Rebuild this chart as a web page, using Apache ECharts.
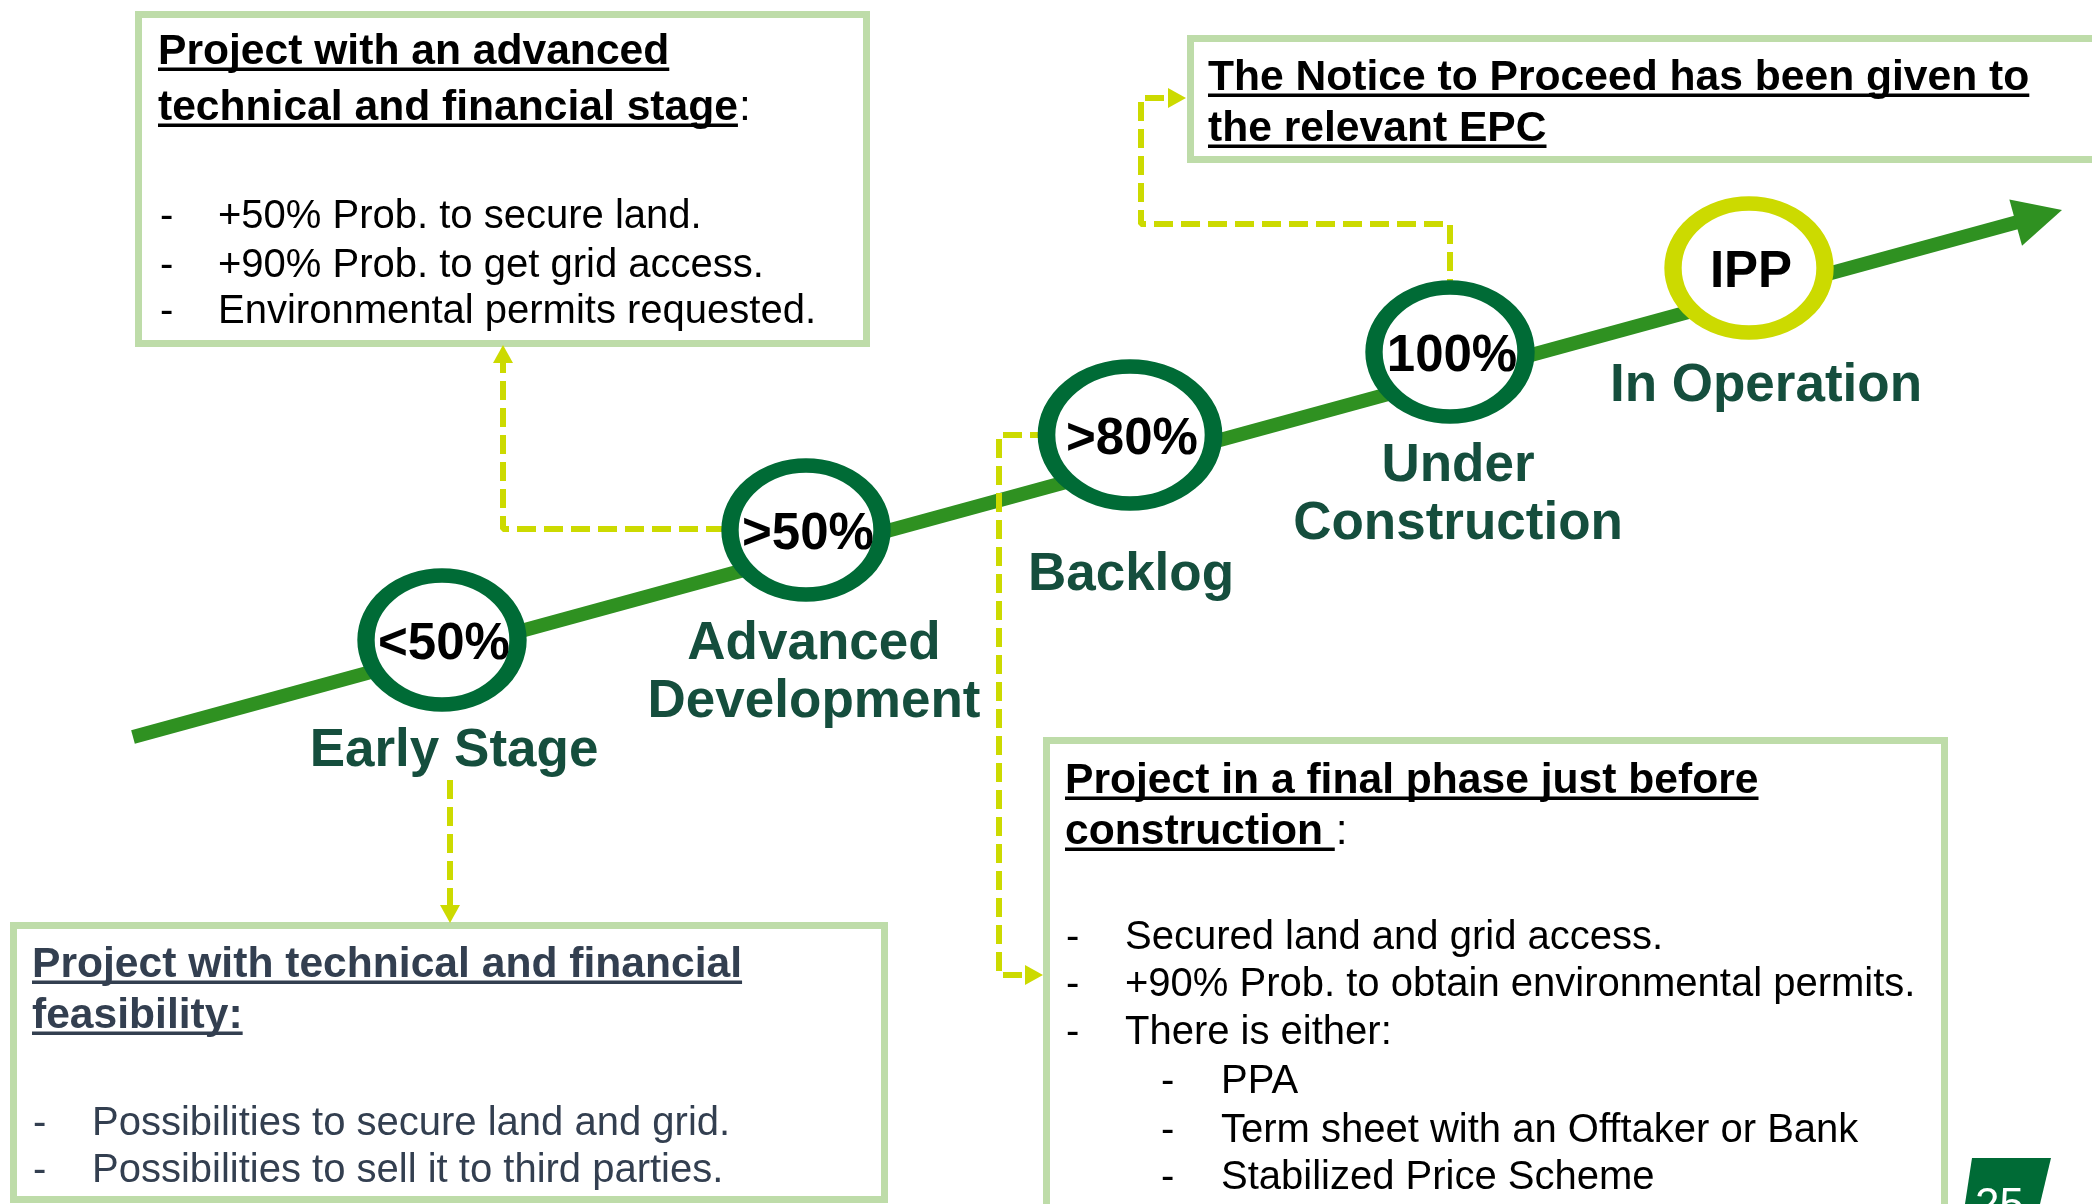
<!DOCTYPE html>
<html>
<head>
<meta charset="utf-8">
<script src="https://cdn.jsdelivr.net/npm/echarts@6/dist/echarts.min.js"></script>
<style>
html, body { margin: 0; padding: 0; background: #fff; }
#main { width: 2092px; height: 1204px; }
</style>
</head>
<body>
<div id="main"></div>
<script>
// stages along the pipeline arrow
var probLabels = ['<50%', '>50%', '>80%', '100%', 'IPP'];
var stageNames = ['Early Stage', 'Advanced\nDevelopment', 'Backlog', 'Under\nConstruction', 'In Operation'];
var stageX = [442, 806, 1130, 1450, 1749];
var stageY = [640, 530, 435, 352, 268];
var nameX = [454, 814, 1131, 1458, 1766];
var nameY = [747, 669, 571, 491, 382];

// main arrow, start and tip
var pathStart = [133, 737];
var pathTip = [2062, 210];

// dashed connectors from stages to the notes
var linkPaths = [
	[[806, 529], [503, 529], [503, 360]],
	[[1130, 435], [999, 435], [999, 975], [1028, 975]],
	[[1450, 352], [1450, 224], [1141, 224], [1141, 98], [1170, 98]],
	[[450, 780], [450, 908]]
];
var linkHeads = [[503, 354], [1034, 975], [1177, 98], [450, 914]];
var linkHeadRotate = [0, -90, -90, 180];

// notes
var advancedTitle = ['Project with an advanced', 'technical and financial stage'];
var advancedItems = ['+50% Prob. to secure land.', '+90% Prob. to get grid access.', 'Environmental permits requested.'];
var ntpTitle = ['The Notice to Proceed has been given to', 'the relevant EPC'];
var earlyTitle = ['Project with technical and financial', 'feasibility:'];
var earlyItems = ['Possibilities to secure land and grid.', 'Possibilities to sell it to third parties.'];
var backlogTitle = ['Project in a final phase just before', 'construction '];
var backlogItems = ['Secured land and grid access.', '+90% Prob. to obtain environmental permits.', 'There is either:', 'PPA', 'Term sheet with an Offtaker or Bank', 'Stabilized Price Scheme'];
var backlogLevels = [0, 0, 0, 1, 1, 1];
var pageNumber = '25';

var FONT = '"Liberation Sans", Arial, sans-serif';
var ringGreen = '#006B36';
var mainGreen = '#2F9121';
var lime = '#CCDA00';
var boxBorder = '#BEDCA9';
var labelGreen = '#154E3D';
var slate = '#333F50';
var titleSize = 42.6;

var ringSize = [[152, 129], [152, 129], [167, 137], [152, 129], [152, 129]];
var ellipse = 'path://M0,50A50,50,0,1,1,100,50A50,50,0,1,1,0,50Z';

var measureCtx = document.createElement('canvas').getContext('2d');
function textWidth(text, font) {
	measureCtx.font = font;
	return measureCtx.measureText(text).width;
}

var boxes = [
	{x: 135, y: 11, w: 735, h: 336, color: '#000', title: advancedTitle, suffix: ':', titleX: 158, titleY: [48, 104],
		items: advancedItems, levels: [0, 0, 0], itemY: [213, 262, 308], dashX: [160], textX: [218]},
	{x: 1187, y: 35, w: 920, h: 128, color: '#000', title: ntpTitle, titleX: 1208, titleY: [74, 125], items: []},
	{x: 10, y: 922, w: 878, h: 281, color: slate, title: earlyTitle, titleX: 32, titleY: [961, 1012],
		items: earlyItems, levels: [0, 0], itemY: [1120, 1167], dashX: [33], textX: [92]},
	{x: 1043, y: 737, w: 905, h: 480, color: '#000', title: backlogTitle, suffix: ':', titleX: 1065, titleY: [777, 828],
		items: backlogItems, levels: backlogLevels, itemY: [934, 981, 1029, 1078, 1127, 1174], dashX: [1066, 1161], textX: [1125, 1221]}
];

// y of a line is the middle of its capitals; canvas 'middle' sits a bit higher
function textY(y, size) {
	return y + size * 0.1;
}

function boxElements(b) {
	var els = [];
	els.push({type: 'rect', z: 1, shape: {x: b.x + 3.5, y: b.y + 3.5, width: b.w - 7, height: b.h - 7},
		style: {fill: '#fff', stroke: boxBorder, lineWidth: 7}});
	var bold = 'bold ' + titleSize + 'px ' + FONT;
	b.title.forEach(function(line, i) {
		var w = textWidth(line, bold);
		els.push({type: 'text', z: 3, x: b.titleX, y: textY(b.titleY[i], titleSize),
			style: {text: line, font: bold, fill: b.color, verticalAlign: 'middle'}});
		els.push({type: 'rect', z: 3, shape: {x: b.titleX, y: b.titleY[i] + 19.5, width: w, height: 3.5},
			style: {fill: b.color}});
		if (b.suffix && i == b.title.length - 1) {
			els.push({type: 'text', z: 3, x: b.titleX + w + 1, y: textY(b.titleY[i], titleSize),
				style: {text: b.suffix, font: titleSize + 'px ' + FONT, fill: b.color, verticalAlign: 'middle'}});
		}
	});
	b.items.forEach(function(item, i) {
		var lv = b.levels[i];
		var font = '40px ' + FONT;
		els.push({type: 'text', z: 3, x: b.dashX[lv], y: textY(b.itemY[i], 40),
			style: {text: '-', font: font, fill: b.color, verticalAlign: 'middle'}});
		els.push({type: 'text', z: 3, x: b.textX[lv], y: textY(b.itemY[i], 40),
			style: {text: item, font: font, fill: b.color, verticalAlign: 'middle'}});
	});
	return els;
}

function createChart() {
	var chart = echarts.init(document.getElementById('main'));

	var dx = pathTip[0] - pathStart[0];
	var dy = pathTip[1] - pathStart[1];
	var len = Math.sqrt(dx * dx + dy * dy);
	var headCenter = [pathTip[0] - 24 * dx / len, pathTip[1] - 24 * dy / len];
	var headRotate = Math.atan2(-dy, dx) * 180 / Math.PI - 90;

	var graphics = [];
	boxes.forEach(function(b) {
		graphics = graphics.concat(boxElements(b));
	});
	graphics.push({type: 'polygon', z: 1, shape: {points: [[1972, 1158], [2051, 1158], [2040, 1204], [1965, 1204]]},
		style: {fill: ringGreen}});
	graphics.push({type: 'text', z: 3, x: 1975, y: 1207,
		style: {text: pageNumber, font: '44px ' + FONT, fill: '#fff', verticalAlign: 'middle'}});

	var series = [];
	series.push({
		type: 'line', data: [pathStart, headCenter], symbol: 'none', z: 2, silent: true,
		lineStyle: {width: 14, color: mainGreen}
	});
	series.push({
		type: 'scatter', data: [headCenter], symbol: 'triangle', symbolSize: 48, symbolRotate: headRotate,
		itemStyle: {color: mainGreen, opacity: 1}, z: 2, silent: true
	});
	linkPaths.forEach(function(p) {
		series.push({
			type: 'line', data: p, symbol: 'none', z: 3, silent: true,
			lineStyle: {width: 6, color: lime, type: [19, 8]}
		});
	});
	series.push({
		type: 'scatter', z: 3, silent: true, symbol: 'triangle', symbolSize: [20, 18],
		itemStyle: {color: lime, opacity: 1},
		data: linkHeads.map(function(h, i) {
			return {value: h, symbolRotate: linkHeadRotate[i]};
		})
	});
	series.push({
		type: 'scatter', z: 5, silent: true, symbol: ellipse,
		data: stageX.map(function(x, i) {
			return {value: [x, stageY[i]], symbolSize: ringSize[i],
				itemStyle: {borderColor: i == 4 ? lime : ringGreen}};
		}),
		itemStyle: {color: '#fff', borderWidth: 16, opacity: 1},
		label: {show: true, position: 'inside', offset: [2, 5], fontFamily: FONT, fontSize: 51, fontWeight: 'bold', color: '#000',
			formatter: function(p) { return probLabels[p.dataIndex]; }}
	});
	series.push({
		type: 'scatter', z: 5, silent: true, symbolSize: 1,
		itemStyle: {color: 'rgba(0,0,0,0)', opacity: 1},
		data: nameX.map(function(x, i) { return [x, nameY[i]]; }),
		label: {show: true, position: 'inside', offset: [0, 4], fontFamily: FONT, fontSize: 53, fontWeight: 'bold',
			color: labelGreen, lineHeight: 58, align: 'center',
			formatter: function(p) { return stageNames[p.dataIndex]; }}
	});

	var option = {
		animation: false,
		grid: {left: 0, right: 0, top: 0, bottom: 0},
		xAxis: {type: 'value', min: 0, max: 2092, show: false},
		yAxis: {type: 'value', min: 0, max: 1204, inverse: true, show: false},
		graphic: {elements: graphics},
		series: series
	};
	chart.setOption(option);
}

createChart();
</script>
</body>
</html>
